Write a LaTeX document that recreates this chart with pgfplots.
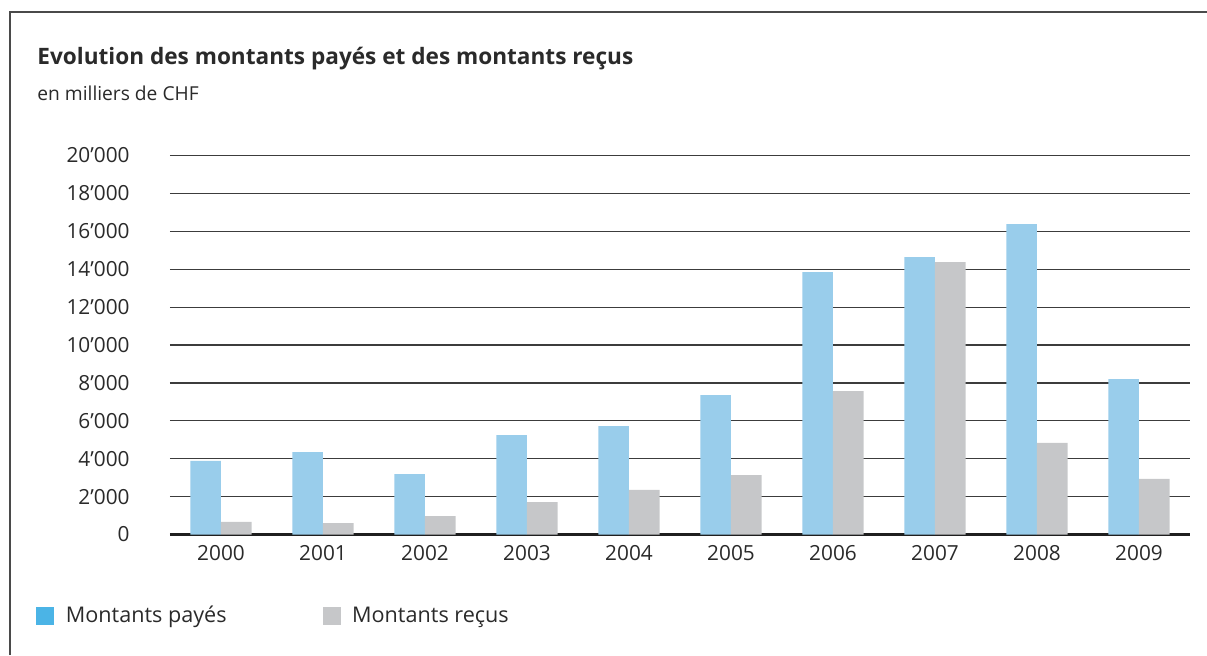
\documentclass[border=0pt]{standalone}
\usepackage{fontspec}
\setmainfont{Open Sans}
\usepackage{pgfplots}
\pgfplotsset{compat=1.18}
\definecolor{paidbar}{HTML}{99CDEB}
\definecolor{paidleg}{HTML}{4BB4E6}
\definecolor{recv}{HTML}{C6C7C9}
\definecolor{gridc}{HTML}{3C3C3C}
\definecolor{framec}{HTML}{4A4A4A}
\definecolor{txt}{HTML}{2A2A2A}
\begin{document}
\begin{tikzpicture}[x=0.5pt,y=0.5pt]
\useasboundingbox (0,0) rectangle (1207,655);
\draw[framec, line width=1pt] (10,0) -- (10,643) -- (1207,643);
\node[anchor=base west, inner sep=0pt, font=\bfseries\fontsize{11.3}{14}\selectfont, text=txt] at (37,590) {Evolution des montants payés et des montants reçus};
\node[anchor=base west, inner sep=0pt, font=\fontsize{9.6}{11}\selectfont, text=txt] at (37,554) {en milliers de CHF};
\begin{axis}[
  at={(85pt,60.25pt)}, anchor=south west,
  scale only axis, width=510pt, height=189.5pt,
  xmin=-0.5, xmax=9.5, ymin=0, ymax=20000,
  scaled y ticks=false,
  axis line style={draw=none},
  ymajorgrids, grid style={color=gridc, line width=0.6pt},
  extra y ticks={0}, extra y tick labels={},
  extra y tick style={grid style={color=black!88, line width=1.5pt}},
  major tick length=0pt,
  xtick={0,...,9},
  xticklabels={2000,2001,2002,2003,2004,2005,2006,2007,2008,2009},
  ytick={0,2000,...,20000},
  yticklabels={0,2’000,4’000,6’000,8’000,10’000,12’000,14’000,16’000,18’000,20’000},
  yticklabel style={anchor=east, inner sep=0pt, xshift=-20pt, font=\fontsize{10.4}{12}\selectfont, text=txt},
  xticklabel style={anchor=north, inner sep=0pt, yshift=-5.5pt, font=\fontsize{10.4}{12}\selectfont, text=txt},
  legend columns=2,
  legend style={at={(axis description cs:-0.1314,-0.215)}, anchor=west, draw=none, fill=none, inner sep=0pt,
    font=\fontsize{10.8}{13}\selectfont, text=txt,
    /tikz/every odd column/.append style={column sep=3.75pt},
    /tikz/every even column/.append style={column sep=46pt}},
  legend image code/.code={\fill[#1] (0pt,-4.5pt) rectangle (9pt,4.5pt);},
]
\addlegendimage{fill=paidleg, draw=none}
\addlegendentry{Montants payés}
\addlegendimage{fill=recv, draw=none}
\addlegendentry{Montants reçus}
\addplot[ybar, bar width=15.35pt, bar shift=-7.675pt, fill=paidbar, draw=none, forget plot]
  coordinates {(0,3880) (1,4350) (2,3190) (3,5250) (4,5725) (5,7360) (6,13850) (7,14640) (8,16385) (9,8205)};
\addplot[ybar, bar width=15.35pt, bar shift=7.675pt, fill=recv, draw=none, forget plot]
  coordinates {(0,660) (1,607) (2,976) (3,1715) (4,2350) (5,3140) (6,7570) (7,14380) (8,4830) (9,2930)};
\end{axis}
\end{tikzpicture}
\end{document}
